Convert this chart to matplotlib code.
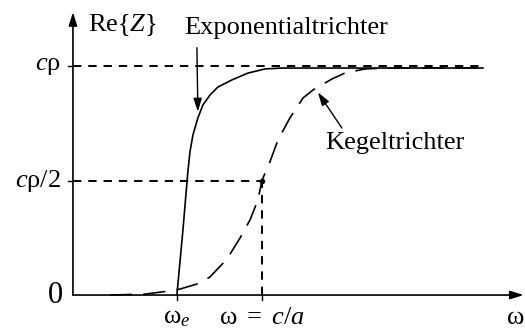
import numpy as np
import matplotlib.pyplot as plt

plt.rcParams['font.family'] = ['Liberation Serif', 'DejaVu Serif']
plt.rcParams['mathtext.fontset'] = 'custom'
plt.rcParams['mathtext.rm'] = 'Liberation Serif'
plt.rcParams['mathtext.it'] = 'Liberation Serif:italic'
plt.rcParams['lines.scale_dashes'] = False

# Frequenz in Einheiten von c/a, Realteil in Einheiten von c*rho
omega_e = 0.55
omega_ca = 1.0
omega_end = 2.17

exp_omega = [0.550, 0.582, 0.608, 0.619, 0.635, 0.661, 0.688, 0.725, 0.767,
             0.841, 0.926, 1.016, 1.106, 2.169]
exp_re = [0.0, 0.284, 0.537, 0.624, 0.699, 0.773, 0.830, 0.873, 0.908,
          0.939, 0.969, 0.987, 0.991, 0.991]

kegel_omega = [0.196, 0.381, 0.503, 0.566, 0.672, 0.725, 0.815, 0.884, 0.937,
               0.979, 1.0, 1.042, 1.085, 1.148, 1.217, 1.270, 1.370, 1.439,
               1.545, 1.651, 2.169]
kegel_re = [0.0, 0.004, 0.017, 0.026, 0.052, 0.079, 0.157, 0.249, 0.328,
            0.415, 0.5, 0.581, 0.677, 0.773, 0.860, 0.895, 0.943, 0.969,
            0.987, 0.991, 0.991]

fig = plt.figure(figsize=(5.25, 3.31), dpi=100)
ax = fig.add_axes([0, 0, 1, 1])
ax.set_xlim(-0.386, 2.392)
ax.set_ylim(-0.157, 1.288)
ax.axis('off')

# Achsen mit Pfeilspitzen
arrow = dict(arrowstyle='-|>,head_length=0.8,head_width=0.25', color='black', lw=1.2,
             shrinkA=0, shrinkB=0)
ax.annotate('', xy=(2.385, 0), xytext=(0, 0), arrowprops=arrow, annotation_clip=False)
ax.annotate('', xy=(0, 1.235), xytext=(0, 0), arrowprops=arrow, annotation_clip=False)

# Hilfslinien
ref = dict(color='black', lw=1.4, dashes=(6, 5))
ax.plot([0, omega_end], [1, 1], **ref)
ax.plot([0, omega_ca], [0.5, 0.5], **ref)
ax.plot([omega_ca, omega_ca], [0, 0.5], **ref)

# Teilstriche
tk = 0.02
ax.plot([-tk * 1.2, 0], [1, 1], color='black', lw=1)
ax.plot([-tk * 1.2, 0], [0.5, 0.5], color='black', lw=1)
for w in (omega_e, omega_ca):
    ax.plot([w, w], [0, -tk * 1.0], color='black', lw=1)

# Kurven
ax.plot(exp_omega, exp_re, color='black', lw=1.2)
ax.plot(kegel_omega, kegel_re, color='black', lw=1.2, dashes=(16, 8))
ax.plot([omega_ca], [0.5], 'o', color='black', ms=3)

fs = 19
ax.text(0.08, 1.18, r'$\mathrm{Re}\{Z\}$', fontsize=fs, ha='left', va='center')
ax.text(-0.065, 1.0, r'$c\mathrm{\rho}$', fontsize=fs, ha='right', va='center')
ax.text(-0.065, 0.5, r'$c\mathrm{\rho}/2$', fontsize=fs, ha='right', va='center')
ax.text(-0.05, 0.0, '0', fontsize=22, ha='right', va='center')
ax.text(omega_e, -0.1, r'$\mathrm{\omega}_{e}$', fontsize=fs, ha='center', va='center')
ax.text(omega_ca, -0.1, r'$\mathrm{\omega}\ =\ c/a$', fontsize=fs, ha='center', va='center')
ax.text(2.386, -0.1, r'$\mathrm{\omega}$', fontsize=fs, ha='right', va='center')

head = dict(arrowstyle='-|>,head_length=0.8,head_width=0.25', color='black', lw=1,
            shrinkA=0, shrinkB=0)
ax.annotate('', xy=(0.661, 0.80), xytext=(0.656, 1.08), arrowprops=head)
ax.text(0.59, 1.166, 'Exponentialtrichter', fontsize=fs, ha='left', va='center')
ax.annotate('', xy=(1.296, 0.885), xytext=(1.423, 0.729), arrowprops=head)
ax.text(1.333, 0.664, 'Kegeltrichter', fontsize=fs, ha='left', va='center')

fig.savefig('out.png', dpi=100)
